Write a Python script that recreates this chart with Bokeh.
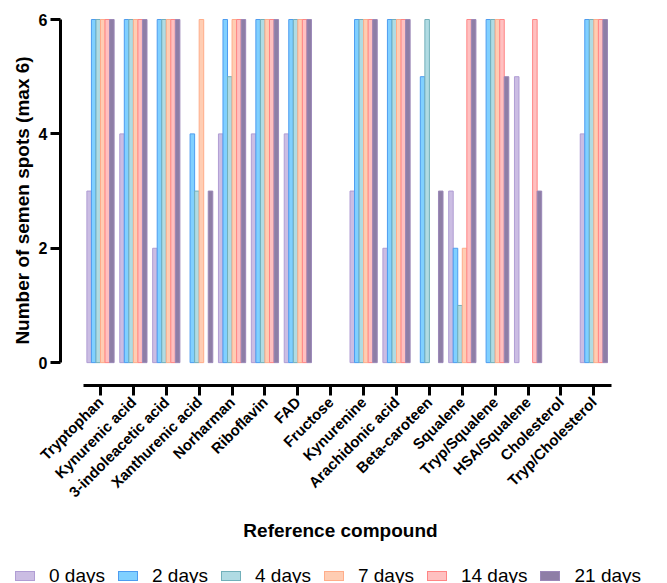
import math
from bokeh.plotting import figure
from bokeh.layouts import column
from bokeh.models import Range1d, FixedTicker, ColumnDataSource, Div
from bokeh.embed import file_html
from bokeh.resources import INLINE

categories = ["Tryptophan", "Kynurenic acid", "3-indoleacetic acid", "Xanthurenic acid",
              "Norharman", "Riboflavin", "FAD", "Fructose", "Kynurenine",
              "Arachidonic acid", "Beta-caroteen", "Squalene", "Tryp/Squalene",
              "HSA/Squalene", "Cholesterol", "Tryp/Cholesterol"]
series_names = ["0 days", "2 days", "4 days", "7 days", "14 days", "21 days"]
days_0 = [3, 4, 2, 0, 4, 4, 4, 0, 3, 2, 0, 3, 0, 5, 0, 4]
days_2 = [6, 6, 6, 4, 6, 6, 6, 0, 6, 6, 5, 2, 6, 0, 0, 6]
days_4 = [6, 6, 6, 3, 5, 6, 6, 0, 6, 6, 6, 1, 6, 0, 0, 6]
days_7 = [6, 6, 6, 6, 6, 6, 6, 0, 6, 6, 0, 2, 6, 0, 0, 6]
days_14 = [6, 6, 6, 0, 6, 6, 6, 0, 6, 6, 0, 6, 6, 6, 0, 6]
days_21 = [6, 6, 6, 3, 6, 6, 6, 0, 6, 6, 3, 6, 5, 3, 0, 6]
y_ticks = [0, 2, 4, 6]

series_values = [days_0, days_2, days_4, days_7, days_14, days_21]
fill_colors = ["#cbbde3", "#80d0ff", "#b0dbe3", "#ffcdb3", "#ffc0c0", "#8e7ea6"]
line_colors = ["#b09dd4", "#4d9cf0", "#72b0ba", "#ffad8a", "#ff8585", "#9b88b8"]

FONT = "Liberation Sans"

p = figure(frame_width=560, frame_height=370, output_backend="svg", toolbar_location=None,
           x_range=Range1d(-1.216, 15.81), y_range=Range1d(-0.40, 6.07),
           min_border_left=60, min_border_right=47, min_border_top=15, min_border_bottom=0)
p.outline_line_color = None
p.xgrid.visible = False
p.ygrid.visible = False

bar_w = 0.138
x_pos = list(range(len(categories)))
for i, (name, vals) in enumerate(zip(series_names, series_values)):
    xs = [xx + (i - 2.5) * bar_w for xx, v in zip(x_pos, vals) if v > 0]
    tops = [v for v in vals if v > 0]
    src = ColumnDataSource(dict(x=xs, top=tops))
    p.vbar(x="x", top="top", bottom=0, width=bar_w, source=src,
           fill_color=fill_colors[i], line_color=line_colors[i], line_width=1)

# axes
xa = p.xaxis[0]
xa.ticker = FixedTicker(ticks=x_pos)
xa.major_label_overrides = {i: c for i, c in enumerate(categories)}
xa.major_label_orientation = math.pi / 4
xa.bounds = (-0.52, 15.55)
xa.axis_label = "Reference compound"
ya = p.yaxis[0]
ya.ticker = FixedTicker(ticks=y_ticks)
ya.bounds = (0, 6)
ya.axis_label = "Number of semen spots (max 6)"

for ax in (xa, ya):
    ax.axis_line_width = 3
    ax.axis_line_color = "black"
    ax.major_tick_line_width = 3
    ax.major_tick_line_color = "black"
    ax.major_tick_out = 10
    ax.major_tick_in = 0
    ax.minor_tick_line_color = None
    ax.major_label_text_font = FONT
    ax.major_label_text_font_style = "bold"
    ax.major_label_text_color = "black"
    ax.axis_label_text_font = FONT
    ax.axis_label_text_font_style = "bold"
    ax.axis_label_text_font_size = "19px"
    ax.axis_label_text_color = "black"

xa.major_label_text_font_size = "15px"
xa.major_label_standoff = 4
xa.axis_label_standoff = 11
ya.major_label_text_font_size = "16px"
ya.major_label_standoff = 3
ya.axis_label_standoff = 3

# legend strip below the chart (HTML text with colour swatches)
parts = []
for i, name in enumerate(series_names):
    gap = "0px" if i == len(series_names) - 1 else "13px"
    parts.append(
        f'<span style="display:inline-block;width:20px;height:10px;background:{fill_colors[i]};'
        f'border:1px solid {line_colors[i]};margin-right:14px;flex:none"></span>'
        f'<span style="margin-right:{gap};flex:none">{name}</span>')
legend_html = (
    '<div style="display:flex;align-items:center;box-sizing:border-box;height:43px;'
    'padding-top:20px;padding-left:15px;white-space:nowrap;'
    f'font-family:\'{FONT}\';font-size:19px;color:black">' + "".join(parts) + '</div>')
lg = Div(text=legend_html, width=667, height=43, margin=(0, 0, 0, 0))

layout = column(p, lg, spacing=0)
open("out.html", "w").write(file_html(layout, INLINE))
